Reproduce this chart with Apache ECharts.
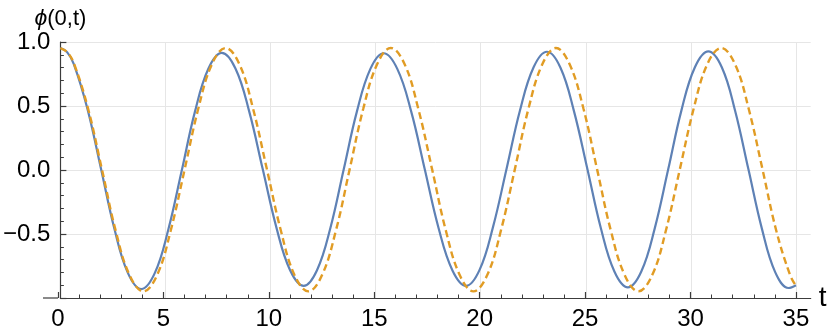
<!DOCTYPE html>
<html><head><meta charset="utf-8">
<script src="https://cdn.jsdelivr.net/npm/echarts@6/dist/echarts.min.js"></script>
<style>html,body{margin:0;padding:0;background:#fff}#c{width:830px;height:332px}</style>
</head><body><div id="c"></div>
<script>
const tBlue = [0, 0.32, 0.64, 1.28, 1.93, 2.57, 3.21, 3.85,
 4.49, 5.13, 5.77, 6.40, 7.04, 7.68,
 8.33, 8.98, 9.63, 10.28, 10.93, 11.58,
 12.21, 12.85, 13.48, 14.11, 14.75, 15.38,
 16.03, 16.69, 17.34, 17.99, 18.65, 19.30,
 19.94, 20.58, 21.23, 21.87, 22.51, 23.15,
 23.79, 24.43, 25.08, 25.72, 26.36, 27.00,
 27.64, 28.28, 28.92, 29.55, 30.19, 30.83,
 31.47, 32.10, 32.74, 33.38, 34.01, 34.65,
 35.00];
const phiBlue = [0.953, 0.921, 0.827, 0.482, 0.012, -0.459, -0.804, -0.930,
 -0.806, -0.469, -0.008, 0.454, 0.791, 0.915,
 0.793, 0.460, 0.005, -0.450, -0.783, -0.905,
 -0.783, -0.451, 0.004, 0.458, 0.790, 0.912,
 0.790, 0.458, 0.004, -0.451, -0.783, -0.905,
 -0.782, -0.448, 0.010, 0.467, 0.801, 0.924,
 0.801, 0.464, 0.004, -0.457, -0.793, -0.917,
 -0.793, -0.456, 0.005, 0.466, 0.803, 0.927,
 0.803, 0.465, 0.003, -0.460, -0.798, -0.922,
 -0.900];
const tOrange = [0, 0.33, 0.66, 1.32, 1.98, 2.63, 3.29, 3.95,
 4.60, 5.25, 5.91, 6.56, 7.21, 7.86,
 8.52, 9.17, 9.83, 10.49, 11.14, 11.80,
 12.45, 13.11, 13.76, 14.41, 15.07, 15.72,
 16.38, 17.03, 17.69, 18.34, 19.00, 19.65,
 20.31, 20.96, 21.62, 22.27, 22.93, 23.58,
 24.23, 24.89, 25.54, 26.19, 26.85, 27.50,
 28.16, 28.81, 29.47, 30.13, 30.78, 31.44,
 32.10, 32.75, 33.41, 34.06, 34.72, 35.00];
const phiOrange = [0.953, 0.920, 0.826, 0.478, 0.003, -0.473, -0.821, -0.948,
 -0.821, -0.473, 0.003, 0.478, 0.826, 0.953,
 0.826, 0.478, 0.003, -0.473, -0.821, -0.948,
 -0.821, -0.473, 0.003, 0.478, 0.826, 0.953,
 0.826, 0.478, 0.003, -0.473, -0.821, -0.948,
 -0.821, -0.473, 0.003, 0.478, 0.826, 0.953,
 0.826, 0.478, 0.003, -0.473, -0.821, -0.948,
 -0.821, -0.473, 0.003, 0.478, 0.826, 0.953,
 0.826, 0.478, 0.003, -0.473, -0.821, -0.905];
const xTickMax = 35;      // last labelled tick
const xAxisEnd = 35.7;    // end of the drawn axis
const yLabelText = '{i|ϕ}(0,t)';
const xLabelText = 't';

const FONT = '"Liberation Sans", Arial, sans-serif';
const AX = '#3c3c3c';
const GRID = '#e6e6e6';
const chart = echarts.init(document.getElementById('c'), null, {renderer: 'canvas'});
const pairs = (xs, ys) => xs.map((x, i) => [x, ys[i]]);
const W = 830 - 58 - 19.3;
const rightTicks = 19.3 + W * (xAxisEnd - xTickMax) / xAxisEnd;
chart.setOption({
  animation: false,
  grid: [
    {left: 58, right: 19.3, top: 42, bottom: 34, containLabel: false},
    {left: 58, right: rightTicks, top: 42, bottom: 34, containLabel: false}
  ],
  xAxis: [{
    gridIndex: 0, type: 'value', min: 0, max: xAxisEnd, interval: 5,
    name: xLabelText, nameLocation: 'end', nameGap: 8,
    nameTextStyle: {fontFamily: FONT, fontSize: 28, color: '#000', padding: [26, 0, 0, 0]},
    axisLine: {onZero: false, lineStyle: {color: AX, width: 1.2}},
    axisTick: {show: false},
    minorTick: {show: false},
    axisLabel: {show: false},
    splitLine: {show: true, showMinLine: false, showMaxLine: false, lineStyle: {color: GRID, width: 1}}
  }, {
    gridIndex: 1, type: 'value', min: 0, max: xTickMax, interval: 5, position: 'bottom',
    axisLine: {show: false, onZero: false},
    axisTick: {show: true, inside: true, length: 6, lineStyle: {color: AX, width: 1.2}},
    minorTick: {show: true, splitNumber: 5, length: 3.5, lineStyle: {color: AX, width: 1}},
    axisLabel: {show: true, fontFamily: FONT, fontSize: 24, color: '#000', margin: 9,
      showMinLabel: true, showMaxLabel: true},
    splitLine: {show: false}
  }],
  yAxis: [{
    gridIndex: 0, type: 'value', min: -1, max: 1, interval: 0.5,
    name: yLabelText, nameLocation: 'end', nameGap: 8,
    nameTextStyle: {fontFamily: FONT, fontSize: 22, color: '#000', align: 'center',
      rich: {i: {fontFamily: FONT, fontSize: 23, fontStyle: 'italic', color: '#000'}}},
    axisLine: {show: true, onZero: false, lineStyle: {color: AX, width: 1.2}},
    axisTick: {show: true, inside: true, length: 6, lineStyle: {color: AX, width: 1.2}},
    minorTick: {show: true, splitNumber: 5, length: 3.5, lineStyle: {color: AX, width: 1}},
    axisLabel: {fontFamily: FONT, fontSize: 24, color: '#000', margin: 10,
      formatter: v => (Math.abs(v + 1) < 1e-9 ? '' : v.toFixed(1).replace('-', '\u2212'))},
    splitLine: {show: true, lineStyle: {color: GRID, width: 1}}
  }, {
    gridIndex: 1, type: 'value', min: -1, max: 1, show: false
  }],
  graphic: [{
    type: 'line', z: 10,
    shape: {x1: 43, y1: 298, x2: 58, y2: 298},
    style: {stroke: AX, lineWidth: 1.2}
  }],
  series: [{
    type: 'line', name: 'blue', xAxisIndex: 0, yAxisIndex: 0,
    data: pairs(tBlue, phiBlue), smooth: 0.4, showSymbol: false,
    lineStyle: {color: '#5E81B5', width: 2.2}, z: 3
  }, {
    type: 'line', name: 'orange', xAxisIndex: 0, yAxisIndex: 0,
    data: pairs(tOrange, phiOrange), smooth: 0.4, showSymbol: false,
    lineStyle: {color: '#E19C24', width: 2.4, type: [7, 4]}, z: 4
  }]
});
</script></body></html>
